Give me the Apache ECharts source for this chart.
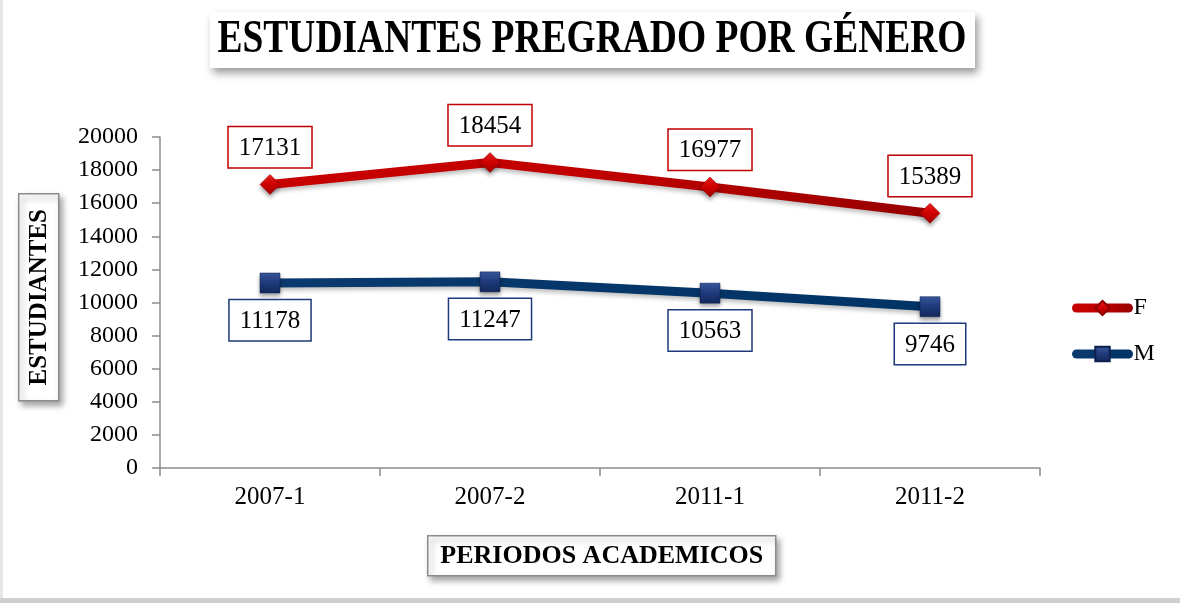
<!DOCTYPE html>
<html>
<head>
<meta charset="utf-8">
<script src="https://cdn.jsdelivr.net/npm/echarts@6/dist/echarts.min.js"></script>
<style>
html,body{margin:0;padding:0;background:#fff;}
#chart{width:1180px;height:603px;}
</style>
</head>
<body>
<div id="chart"></div>
<script>
const categories = ['2007-1', '2007-2', '2011-1', '2011-2'];
const seriesF = [17131, 18454, 16977, 15389];
const seriesM = [11178, 11247, 10563, 9746];
const yTicks = [0, 2000, 4000, 6000, 8000, 10000, 12000, 14000, 16000, 18000, 20000];
const titleText = 'ESTUDIANTES PREGRADO POR GÉNERO';
const yTitle = 'ESTUDIANTES';
const xTitle = 'PERIODOS ACADEMICOS';

const serif = '"Liberation Serif", "Times New Roman", serif';
const chart = echarts.init(document.getElementById('chart'));

const redGrad = new echarts.graphic.LinearGradient(0, 0, 1, 0, [
  {offset: 0, color: '#C80000'}, {offset: 0.5, color: '#C00000'}, {offset: 1, color: '#960000'}
]);
const blueGrad = new echarts.graphic.LinearGradient(0, 0, 1, 0, [
  {offset: 0, color: '#0B3A6E'}, {offset: 1, color: '#003366'}
]);
const diamondFill = new echarts.graphic.LinearGradient(0, 0, 0, 1, [
  {offset: 0, color: '#F02020'}, {offset: 0.5, color: '#D00000'}, {offset: 1, color: '#A00000'}
]);
const squareFill = new echarts.graphic.LinearGradient(0, 0, 0, 1, [
  {offset: 0, color: '#3A5AA0'}, {offset: 0.5, color: '#1F3A7A'}, {offset: 1, color: '#13295C'}
]);

const boxLabel = (pos, border) => ({
  show: true,
  position: pos,
  distance: 7,
  fontFamily: serif,
  fontSize: 25,
  lineHeight: 26,
  color: '#000',
  backgroundColor: '#fff',
  borderColor: border,
  borderWidth: 1.5,
  padding: [8, 10, 6, 10]
});

const shadowBox = {fill: '#fff', stroke: '#8c8c8c', lineWidth: 1.5, shadowColor: 'rgba(0,0,0,0.35)', shadowBlur: 6, shadowOffsetX: 3, shadowOffsetY: 4};

chart.setOption({
  animation: false,
  backgroundColor: '#fff',
  grid: {left: 160, right: 140, top: 137, bottom: 135},
  legend: {
    orient: 'vertical',
    left: 1072,
    top: 296,
    padding: 0,
    itemWidth: 52,
    itemHeight: 18,
    itemGap: 22,
    lineStyle: {width: 9, cap: 'round'},
    textStyle: {fontFamily: serif, fontSize: 24, color: '#000', padding: 0},
    data: ['F', 'M']
  },
  xAxis: {
    type: 'category',
    data: categories,
    boundaryGap: true,
    axisLine: {lineStyle: {color: '#8c8c8c', width: 1.5}},
    axisTick: {show: true, length: 8, lineStyle: {color: '#8c8c8c', width: 1.5}},
    axisLabel: {fontFamily: serif, fontSize: 25, color: '#000', margin: 17},
    splitLine: {show: false}
  },
  yAxis: {
    type: 'value',
    min: 0,
    max: 20000,
    interval: 2000,
    axisLine: {show: true, lineStyle: {color: '#8c8c8c', width: 1.5}},
    axisTick: {show: true, length: 8, lineStyle: {color: '#8c8c8c', width: 1.5}},
    axisLabel: {
      fontFamily: serif, fontSize: 24, color: '#000', margin: 22,
      formatter: v => yTicks.includes(v) ? String(v) : ''
    },
    splitLine: {show: false}
  },
  series: [
    {
      name: 'F',
      type: 'line',
      data: seriesF,
      symbol: 'diamond',
      symbolSize: 20,
      lineStyle: {color: redGrad, width: 9, shadowColor: 'rgba(0,0,0,0.25)', shadowBlur: 4, shadowOffsetY: 3},
      itemStyle: {color: diamondFill, borderColor: '#900000', borderWidth: 0.5, shadowColor: 'rgba(0,0,0,0.35)', shadowBlur: 4, shadowOffsetY: 3},
      label: boxLabel('top', '#C00000'),
      z: 3
    },
    {
      name: 'M',
      type: 'line',
      data: seriesM,
      symbol: 'rect',
      symbolSize: 20,
      lineStyle: {color: blueGrad, width: 9, shadowColor: 'rgba(0,0,0,0.25)', shadowBlur: 4, shadowOffsetY: 3},
      itemStyle: {color: squareFill, borderColor: '#0E2050', borderWidth: 0.5, shadowColor: 'rgba(0,0,0,0.35)', shadowBlur: 4, shadowOffsetY: 3},
      label: boxLabel('bottom', '#1F3A7A'),
      z: 2
    }
  ],
  graphic: [
    {type: 'rect', left: 0, top: 0, shape: {width: 3, height: 603}, style: {fill: '#e6e6e6'}, silent: true},
    {type: 'rect', left: 0, top: 598, shape: {width: 1180, height: 5}, style: {fill: '#cfcfcf'}, silent: true},
    {
      type: 'group', left: 210, top: 12,
      children: [
        {type: 'rect', shape: {x: 0, y: 0, width: 765, height: 56},
         style: {fill: '#fff', shadowColor: 'rgba(0,0,0,0.4)', shadowBlur: 8, shadowOffsetX: 3, shadowOffsetY: 5}},
        {type: 'text', x: 382, y: 28, scaleY: 1.22,
         style: {text: titleText, fontFamily: serif, fontWeight: 'bold', fontSize: 37.5, fill: '#000', align: 'center', verticalAlign: 'middle'}}
      ]
    },
    {
      type: 'group', left: 18, top: 193,
      children: [
        {type: 'rect', shape: {x: 0, y: 0, width: 40, height: 207}, style: shadowBox},
        {type: 'text', x: 21, y: 103.5, rotation: Math.PI / 2,
         style: {text: yTitle, fontFamily: serif, fontWeight: 'bold', fontSize: 25, fill: '#000', align: 'center', verticalAlign: 'middle'}}
      ]
    },
    {
      type: 'group', left: 427, top: 535,
      children: [
        {type: 'rect', shape: {x: 0, y: 0, width: 348, height: 40}, style: shadowBox},
        {type: 'text', x: 174, y: 21,
         style: {text: xTitle, fontFamily: serif, fontWeight: 'bold', fontSize: 26, fill: '#000', align: 'center', verticalAlign: 'middle'}}
      ]
    }
  ]
});
</script>
</body>
</html>
